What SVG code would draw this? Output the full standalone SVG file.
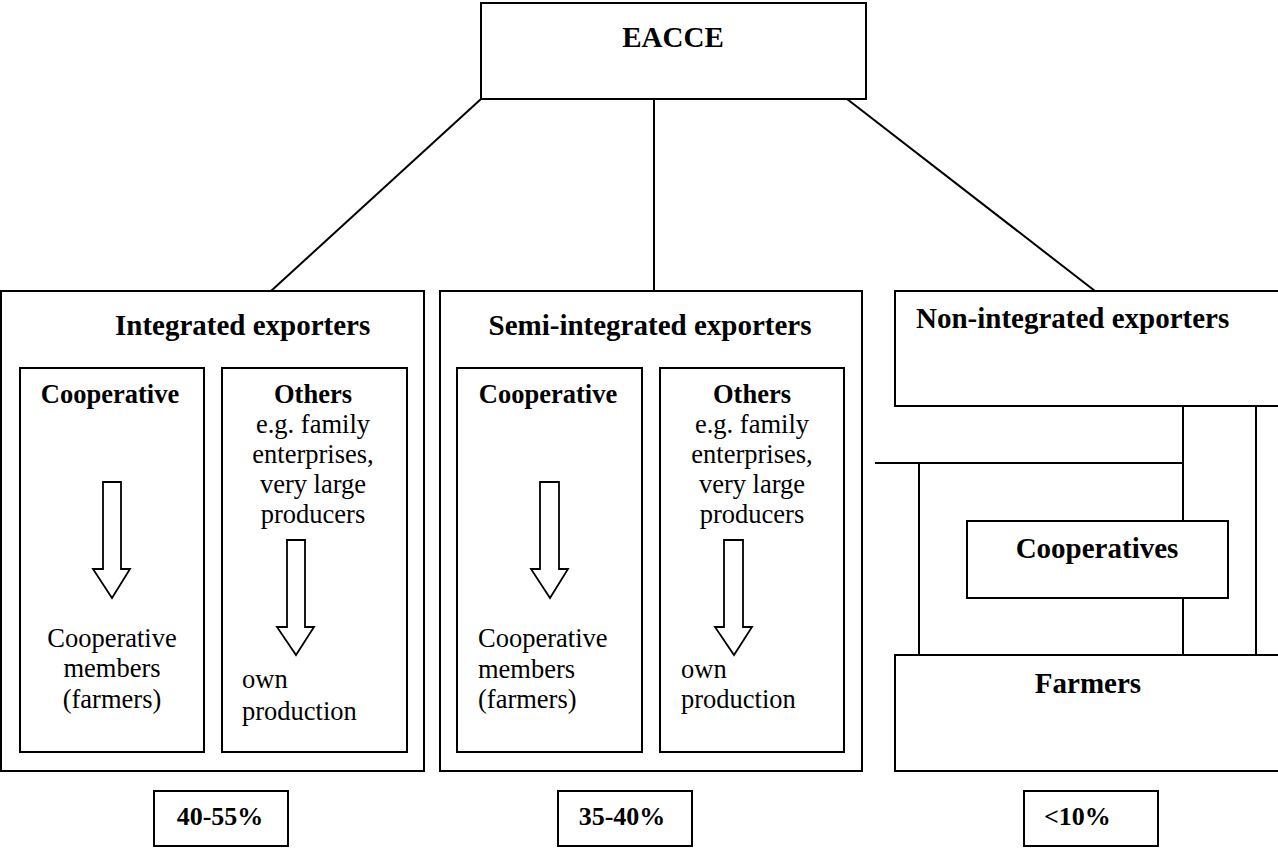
<svg xmlns="http://www.w3.org/2000/svg" width="1278" height="848" viewBox="0 0 1278 848">
<style>
.box{fill:#fff;stroke:#000;stroke-width:2}
.ln{fill:none;stroke:#000;stroke-width:2}
.arr{fill:#fff;stroke:#000;stroke-width:1.8;stroke-linejoin:miter}
.h{font-family:"Liberation Serif","Times New Roman",serif;font-weight:bold;font-size:29px;fill:#000}
.hs{font-family:"Liberation Serif","Times New Roman",serif;font-weight:bold;font-size:26.5px;fill:#000}
.t{font-family:"Liberation Serif","Times New Roman",serif;font-size:26.5px;fill:#000}
.p{font-family:"Liberation Serif","Times New Roman",serif;font-weight:bold;font-size:26px;fill:#000}
.c{text-anchor:middle}
</style>
<rect width="1278" height="848" fill="#fff"/>
<g id="connectors">
<line class="ln" x1="481" y1="99" x2="271" y2="291"/>
<line class="ln" x1="654" y1="99" x2="654" y2="291"/>
<line class="ln" x1="847" y1="99" x2="1095" y2="291"/>
<line class="ln" x1="1183" y1="406" x2="1183" y2="521"/>
<line class="ln" x1="1183" y1="598" x2="1183" y2="655"/>
<line class="ln" x1="1256" y1="406" x2="1256" y2="655"/>
<polyline class="ln" points="875,463 1183,463"/>
<line class="ln" x1="919" y1="463" x2="919" y2="655"/>
</g>
<g id="eacce">
<rect class="box" x="481" y="3" width="385" height="96"/>
<text class="h c" x="673" y="47">EACCE</text>
</g>
<g id="integrated">
<rect class="box" x="1" y="291" width="423" height="480"/>
<text class="h" x="115" y="335">Integrated exporters</text>
<g id="int-coop">
<rect class="box" x="20" y="368" width="184" height="384"/>
<text class="hs c" x="110" y="403">Cooperative</text>
<polygon class="arr" points="103,482 121,482 121,569 130,569 112,598 93,569 103,569"/>
<text class="t c" x="112" y="647">Cooperative</text>
<text class="t c" x="112" y="677">members</text>
<text class="t c" x="112" y="708">(farmers)</text>
</g>
<g id="int-others">
<rect class="box" x="222" y="368" width="185" height="384"/>
<text class="hs c" x="313" y="403">Others</text>
<text class="t c" x="313" y="433">e.g. family</text>
<text class="t c" x="313" y="463">enterprises,</text>
<text class="t c" x="313" y="493">very large</text>
<text class="t c" x="313" y="523">producers</text>
<polygon class="arr" points="287,540 305,540 305,627 314,627 296,655 277,627 287,627"/>
<text class="t" x="242" y="688">own</text>
<text class="t" x="242" y="720">production</text>
</g>
</g>
<g id="semi">
<rect class="box" x="440" y="291" width="422" height="480"/>
<text class="h c" x="650" y="335">Semi-integrated exporters</text>
<g id="semi-coop">
<rect class="box" x="457" y="368" width="185" height="384"/>
<text class="hs c" x="548" y="403">Cooperative</text>
<polygon class="arr" points="540,482 559,482 559,569 568,569 550,598 531,569 540,569"/>
<text class="t" x="478" y="647">Cooperative</text>
<text class="t" x="478" y="678">members</text>
<text class="t" x="478" y="708">(farmers)</text>
</g>
<g id="semi-others">
<rect class="box" x="660" y="368" width="184" height="384"/>
<text class="hs c" x="752" y="403">Others</text>
<text class="t c" x="752" y="433">e.g. family</text>
<text class="t c" x="752" y="463">enterprises,</text>
<text class="t c" x="752" y="493">very large</text>
<text class="t c" x="752" y="523">producers</text>
<polygon class="arr" points="724,540 743,540 743,627 752,627 734,655 715,627 724,627"/>
<text class="t" x="681" y="678">own</text>
<text class="t" x="681" y="708">production</text>
</g>
</g>
<g id="nonintegrated">
<rect class="box" x="895" y="291" width="400" height="115"/>
<text class="h" x="916" y="328">Non-integrated exporters</text>
</g>
<g id="cooperatives">
<rect class="box" x="967" y="521" width="261" height="77"/>
<text class="h c" x="1097" y="558">Cooperatives</text>
</g>
<g id="farmers">
<rect class="box" x="895" y="655" width="400" height="116"/>
<text class="h c" x="1088" y="693">Farmers</text>
</g>
<g id="pct1">
<rect class="box" x="154" y="791" width="134" height="55"/>
<text class="p c" x="220" y="825">40-55%</text>
</g>
<g id="pct2">
<rect class="box" x="558" y="791" width="134" height="55"/>
<text class="p c" x="622" y="825">35-40%</text>
</g>
<g id="pct3">
<rect class="box" x="1024" y="791" width="134" height="55"/>
<text class="p" x="1044" y="825">&lt;10%</text>
</g>
</svg>
